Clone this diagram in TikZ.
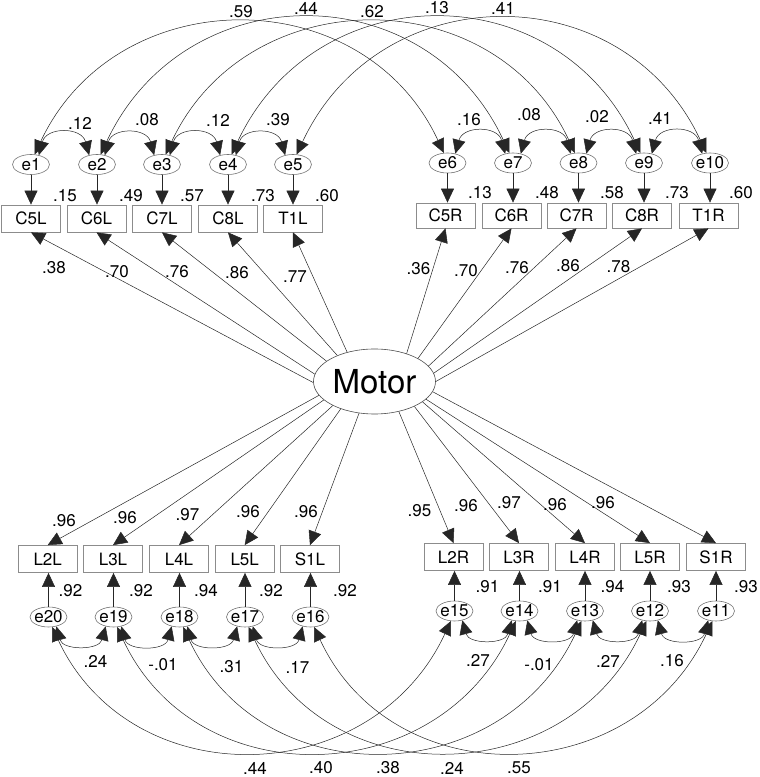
\documentclass[tikz,border=0pt]{standalone}
\usepackage{fontspec}
\setmainfont{TeX Gyre Heros}
\usetikzlibrary{arrows.meta,shapes.geometric}
\begin{document}
\begin{tikzpicture}[x=1pt,y=1pt,
  font=\fontsize{17}{20}\selectfont,
  obs/.style={draw=black!45, line width=0.8pt, minimum width=59pt, minimum height=27pt, inner sep=0pt},
  obsr/.style={obs, minimum height=25pt},
  err/.style={ellipse, draw=black!55, line width=0.6pt, minimum width=37pt, minimum height=20pt, inner sep=0pt},
  lat/.style={ellipse, draw=black!70, line width=0.6pt, minimum width=122pt, minimum height=65pt, inner sep=0pt, font=\fontsize{33}{36}\selectfont},
  tip/.tip={Triangle[length=14pt,width=13pt]},
  conn/.style={line width=0.5pt, draw=black!85, -tip},
  cov/.style={line width=0.5pt, draw=black!85, tip-tip},
  lab/.style={inner sep=0pt}
]
\useasboundingbox (0,0) rectangle (760,777);

% ---------- indicators ----------
\foreach \n/\x in {C5L/31,C6L/96.5,C7L/162,C8L/228,T1L/293}
  \node[obs] (\n) at (\x,558.5) {\n};
\foreach \n/\x in {C5R/445.5,C6R/511.5,C7R/576.5,C8R/642,T1R/708.5}
  \node[obsr] (\n) at (\x,561.5) {\n};
\foreach \n/\x in {L2L/47.7,L3L/113,L4L/179,L5L/244.7,S1L/310}
  \node[obs] (\n) at (\x,218) {\n};
\foreach \n/\x in {L2R/453.5,L3R/519,L4R/585,L5R/650,S1R/716}
  \node[obs] (\n) at (\x,220) {\n};

% ---------- errors ----------
\foreach \n/\x in {e1/31,e2/97,e3/162,e4/228,e5/293}
  \node[err] (\n) at (\x,612.5) {\makebox[0pt]{\n}};
\foreach \n/\x in {e6/447.5,e7/513,e8/578.5,e9/644,e10/710}
  \node[err] (\n) at (\x,614) {\makebox[0pt]{\n}};
\foreach \n/\x in {e20/48.5,e19/113.5,e18/179.5,e17/245,e16/310.5}
  \node[err] (\n) at (\x,160) {\makebox[0pt]{\n}};
\foreach \n/\x in {e15/454.5,e14/519.5,e13/585,e12/650,e11/716}
  \node[err] (\n) at (\x,166) {\makebox[0pt]{\n}};

% ---------- latent ----------
\node[lat] (Motor) at (374.5,395.5) {Motor};

% ---------- error -> indicator ----------
\foreach \e/\b in {e1/C5L,e2/C6L,e3/C7L,e4/C8L,e5/T1L,e6/C5R,e7/C6R,e8/C7R,e9/C8R,e10/T1R}
  \draw[conn] (\e) -- (\e |- \b.north);
\foreach \e/\b in {e20/L2L,e19/L3L,e18/L4L,e17/L5L,e16/S1L,e15/L2R,e14/L3R,e13/L4R,e12/L5R,e11/S1R}
  \draw[conn] (\e) -- (\e |- \b.south);

% ---------- Motor -> indicators ----------
\foreach \a/\b in {181/C5L,173/C6L,157/C7L,145/C8L,133/T1L,41/C5R,28.5/C6R,16/C7R,8/C8R,0/T1R}
  \draw[conn] (Motor.\a) -- (\b.south);
\foreach \a/\b in {194/L2L,200/L3L,210/L4L,219/L5L,244/S1L,309/L2R,328/L3R,337.7/L4R,341/L5R,350/S1R}
  \draw[conn] (Motor.\a) -- (\b.north);

% ---------- covariances, top ----------
\draw[cov] (e1.70) to[out=65,in=115,looseness=1.2] (e6.110);
\draw[cov] (e2.70) to[out=65,in=115,looseness=1.24] (e7.110);
\draw[cov] (e3.70) to[out=65,in=115,looseness=1.2] (e8.110);
\draw[cov] (e4.70) to[out=65,in=115,looseness=1.24] (e9.110);
\draw[cov] (e5.70) to[out=65,in=115,looseness=1.23] (e10.110);
\foreach \a/\b in {e1/e2,e2/e3,e3/e4,e4/e5,e6/e7,e7/e8,e8/e9,e9/e10}
  \draw[cov] (\a.50) to[out=75,in=105,looseness=1.5] (\b.130);

% ---------- covariances, bottom ----------
\draw[cov] (e20.-70) to[out=-65,in=-115,looseness=1.2] (e15.-110);
\draw[cov] (e19.-70) to[out=-65,in=-115,looseness=1.2] (e14.-110);
\draw[cov] (e18.-70) to[out=-65,in=-115,looseness=1.2] (e13.-110);
\draw[cov] (e17.-70) to[out=-65,in=-115,looseness=1.2] (e12.-110);
\draw[cov] (e16.-70) to[out=-65,in=-115,looseness=1.2] (e11.-110);
\foreach \a/\b in {e20/e19,e19/e18,e18/e17,e17/e16,e15/e14,e14/e13,e13/e12,e12/e11}
  \draw[cov] (\a.-50) to[out=-75,in=-105,looseness=1.3] (\b.-130);

% ---------- labels ----------
\foreach \i/\x/\y/\t in {1/241/765/.59,2/306/769/.44,3/372/765/.62,4/437/769/.13,5/503/769/.41,
  6/80/654/.12,7/147/657/.08,8/218/657/.12,9/278/657/.39,10/469/657/.16,11/529/662/.08,12/597/660/.02,13/660/659/.41,
  14/65/581/.15,15/131/581/.49,16/192/581/.57,17/263/581/.73,18/327/581/.60,
  19/480/584/.13,20/547/584/.48,21/612/584/.58,22/677/584/.73,23/741/584/.60,
  24/54/509/.38,25/117/505/.70,26/177/505/.76,27/237/504/.86,28/295/500/.77,
  29/418.5/508/.36,30/466/506/.70,31/517/509/.76,32/568/511/.86,33/618.5/510/.78,
  34/64/256/.96,35/125/259/.96,36/187.5/262/.97,37/248/265/.96,38/306/265/.96,
  39/419.5/266/.95,40/466/271/.96,41/509/274/.97,42/555/272/.96,43/603/274/.96,
  44/70.5/186/.92,45/141/186/.92,46/206/186/.94,47/271/186/.92,48/345/186/.92,
  49/487.5/190/.91,50/550/190/.91,51/612.5/190/.94,52/679/190/.93,53/746/190/.93,
  54/95.5/116/.24,55/163/112/-.01,56/231.5/110/.31,57/297.5/110/.17,
  58/478/117/.27,59/539/112/-.01,60/608/116/.27,61/672/116/.16,
  62/255/9/.44,63/321/9/.40,64/388/9/.38,65/452/9/.24,66/519/9/.55}
  \node[lab] (lab\i) at (\x,\y) {\t};
\end{tikzpicture}
\end{document}
